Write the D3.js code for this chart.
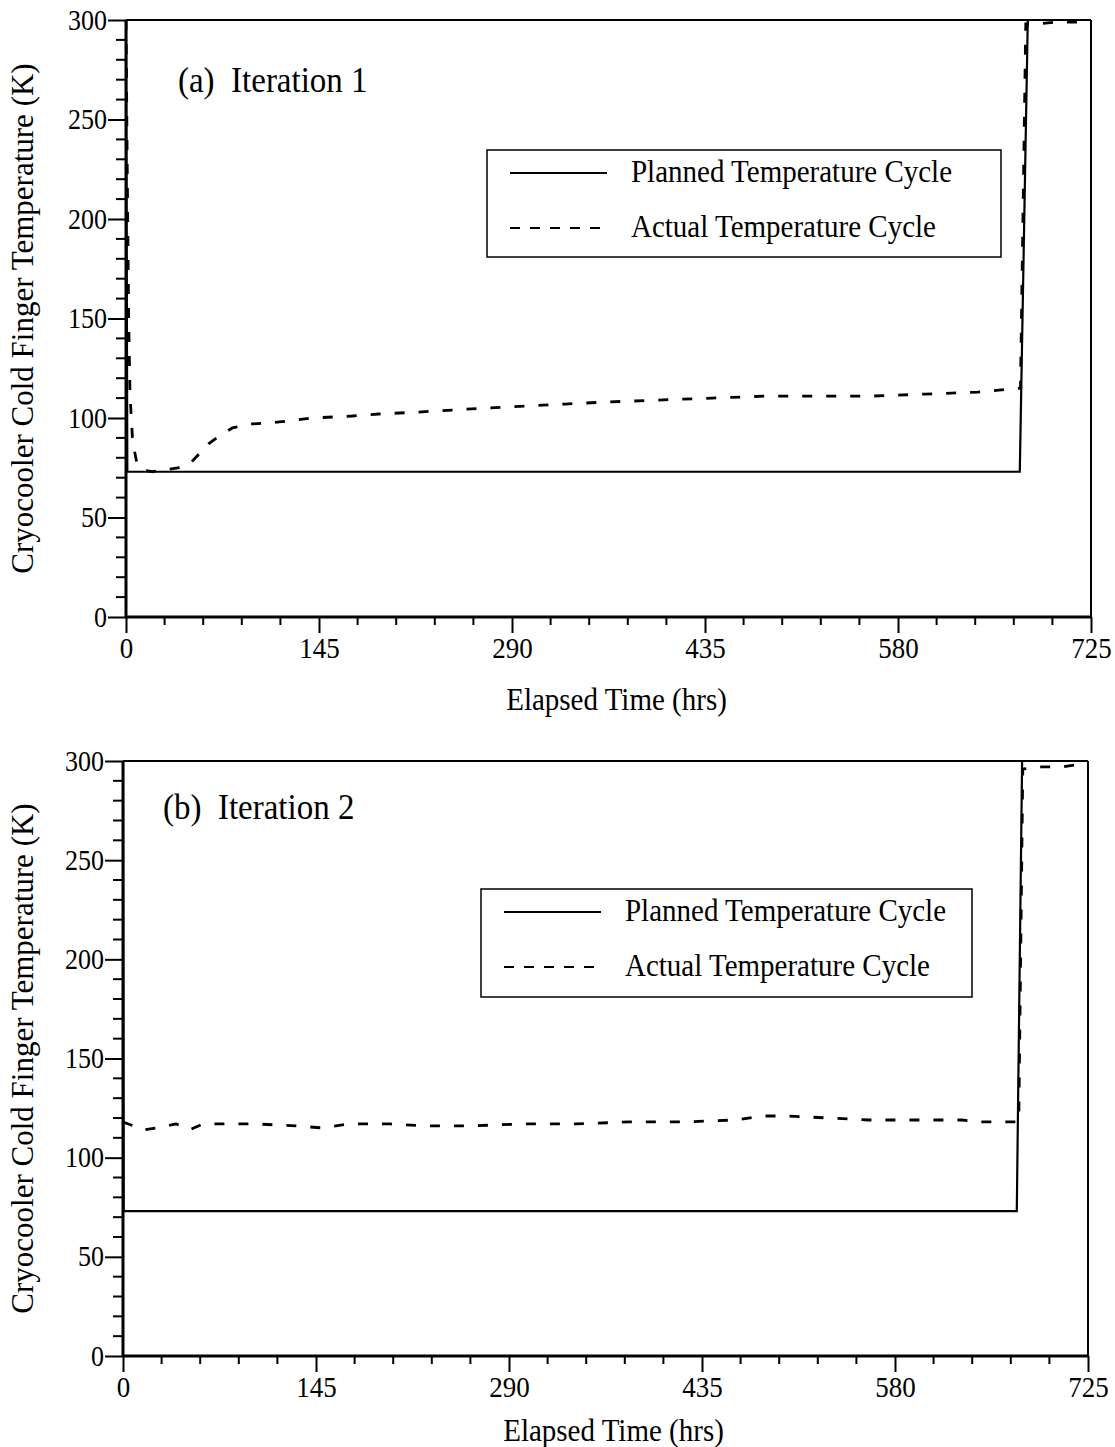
<!DOCTYPE html>
<html><head><meta charset="utf-8">
<script src="https://cdn.jsdelivr.net/npm/d3@7"></script>
<style>body{margin:0;background:#fff}svg{display:block}text{font-family:"Liberation Serif","Times New Roman",serif;fill:#000;white-space:pre}</style>
</head><body>
<svg id="c" width="1115" height="1447"></svg>
<script>
const xTicks = [0,145,290,435,580,725];
const yTicks = [0,50,100,150,200,250,300];
const legendLabels = ["Planned Temperature Cycle","Actual Temperature Cycle"];
const panelTitles = ["(a)  Iteration 1","(b)  Iteration 2"];

// Panel (a)
const plannedA_t = [0, 1, 671.5, 677.5, 725];
const plannedA_v = [300, 73, 73, 300, 300];
const actualA_t = [0, 1, 2, 3, 5, 8, 12, 20, 30, 40, 48, 55, 62, 70, 80, 95, 115, 140, 170, 190, 220, 245, 270, 300, 330, 360, 400, 440, 480, 520, 560, 600, 640, 672, 676, 685, 700, 715, 725];
const actualA_v = [300, 220, 150, 112, 88, 78, 74, 73, 74, 75, 77, 82, 87, 91, 95, 97, 98, 100, 101, 102, 103, 104, 105, 106, 107, 108, 109, 110, 111, 111, 111, 112, 113, 115, 298, 298, 299, 299, 300];
// Panel (b)
const plannedB_t = [0, 0.5, 671.5, 675.5, 725];
const plannedB_v = [300, 73, 73, 300, 300];
const actualB_t = [0, 8, 15, 25, 40, 50, 60, 80, 100, 130, 150, 170, 200, 230, 260, 300, 340, 380, 420, 460, 480, 500, 530, 560, 600, 630, 645, 660, 673, 676, 690, 705, 715, 725];
const actualB_v = [118, 116, 114, 115, 117, 114, 117, 117, 117, 116, 115, 117, 117, 116, 116, 117, 117, 118, 118, 119, 121, 121, 120, 119, 119, 119, 118, 118, 118, 296, 297, 297, 298, 300];

const svg = d3.select("#c");
const panels = [
  {x0:126, x1:1091, y0:617, y1:20, pt:plannedA_t, pv:plannedA_v, at:actualA_t, av:actualA_v,
   title:panelTitles[0], tx:178, ty:92, lg:{x:487,y:150,w:514,h:107}, xlabY:710},
  {x0:123, x1:1088, y0:1356, y1:761, pt:plannedB_t, pv:plannedB_v, at:actualB_t, av:actualB_v,
   title:panelTitles[1], tx:163, ty:819, lg:{x:481,y:889,w:491,h:108}, xlabY:1441}
];

function addText(g, x, y, size, txt, anchor){
  return g.append("text").attr("transform",`translate(${x},${y}) scale(1,1.08)`)
    .attr("text-anchor",anchor||"start").style("font-size",size+"px").text(txt);
}

panels.forEach(p => {
  const x = d3.scaleLinear().domain([0,725]).range([p.x0,p.x1]);
  const y = d3.scaleLinear().domain([0,300]).range([p.y0,p.y1]);
  const g = svg.append("g");

  // frame top/right
  g.append("line").attr("x1",p.x0).attr("x2",p.x1).attr("y1",p.y1).attr("y2",p.y1).attr("stroke","#000").attr("stroke-width",2);
  g.append("line").attr("x1",p.x1).attr("x2",p.x1).attr("y1",p.y1).attr("y2",p.y0).attr("stroke","#000").attr("stroke-width",2);

  // minor ticks
  const yMinor = d3.range(0,301,10).filter(v=>v%50!==0);
  g.selectAll(null).data(yMinor).enter().append("line")
    .attr("x1",p.x0-10).attr("x2",p.x0).attr("y1",d=>y(d)).attr("y2",d=>y(d)).attr("stroke","#000").attr("stroke-width",2);
  const xMinor = d3.range(0,726,29).filter(v=>v%145!==0);
  g.selectAll(null).data(xMinor).enter().append("line")
    .attr("x1",d=>x(d)).attr("x2",d=>x(d)).attr("y1",p.y0).attr("y2",p.y0+8).attr("stroke","#000").attr("stroke-width",2);

  // axes
  const ax = g.append("g").attr("transform",`translate(0,${p.y0})`)
    .call(d3.axisBottom(x).tickValues(xTicks).tickSize(16).tickPadding(2).tickFormat(d3.format("d")));
  const ay = g.append("g").attr("transform",`translate(${p.x0},0)`)
    .call(d3.axisLeft(y).tickValues(yTicks).tickSize(18).tickPadding(1).tickFormat(d3.format("d")));
  [ax,ay].forEach(a=>{
    a.select(".domain").attr("stroke","#000").attr("stroke-width",3);
    a.selectAll(".tick line").attr("stroke","#000").attr("stroke-width",2);
    a.selectAll(".tick text").style("font-family","Liberation Serif").attr("transform","scale(1,1.1)");
  });
  ax.selectAll(".tick text").style("font-size","27px");
  ay.selectAll(".tick text").style("font-size","26px");
  ax.select(".domain").attr("d",`M${p.x0},0H${p.x1}`);
  ay.select(".domain").attr("d",`M0,${p.y0}V${p.y1}`);

  // lines
  const line = d3.line().x(d=>x(d[0])).y(d=>y(d[1]));
  const clip = "clip"+p.x0;
  svg.append("clipPath").attr("id",clip).append("rect").attr("x",p.x0).attr("y",p.y1).attr("width",p.x1-p.x0).attr("height",p.y0-p.y1);
  g.append("path").attr("clip-path",`url(#${clip})`).datum(p.at.map((t,i)=>[t,p.av[i]])).attr("d",line)
    .attr("fill","none").attr("stroke","#000").attr("stroke-width",2.8).attr("stroke-dasharray","10,14");
  g.append("path").attr("clip-path",`url(#${clip})`).datum(p.pt.map((t,i)=>[t,p.pv[i]])).attr("d",line)
    .attr("fill","none").attr("stroke","#000").attr("stroke-width",2.2);

  // title
  addText(g, p.tx, p.ty, 33, p.title);

  // legend
  const L = p.lg;
  g.append("rect").attr("x",L.x).attr("y",L.y).attr("width",L.w).attr("height",L.h).attr("fill","#fff").attr("stroke","#000").attr("stroke-width",1.5);
  legendLabels.forEach((lab,i)=>{
    const ly = L.y + 23 + i*55;
    g.append("line").attr("x1",L.x+23).attr("x2",L.x+120).attr("y1",ly).attr("y2",ly).attr("stroke","#000").attr("stroke-width",2)
      .attr("stroke-dasharray", i===1?"10,10":null);
    addText(g, L.x+144, ly+9, 29, lab);
  });

  // axis titles
  addText(g, (p.x0+p.x1)/2+8, p.xlabY, 29, "Elapsed Time (hrs)", "middle");
  g.append("text").attr("transform",`translate(33,${(p.y0+p.y1)/2}) rotate(-90)`).attr("text-anchor","middle").style("font-size","31px")
    .text("Cryocooler Cold Finger Temperature (K)");
});
</script>
</body></html>
